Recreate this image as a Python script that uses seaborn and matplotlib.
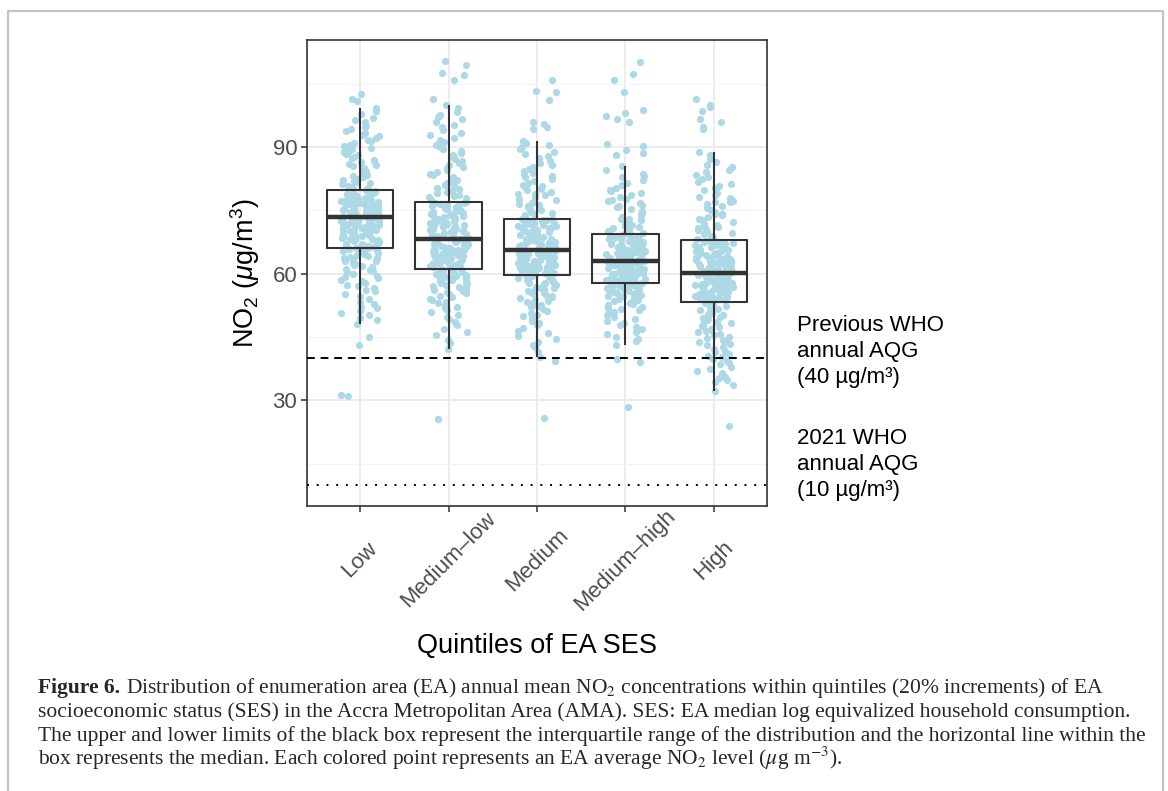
import numpy as np
import pandas as pd
import seaborn as sns
import matplotlib.pyplot as plt
from matplotlib.lines import Line2D
from matplotlib.transforms import IdentityTransform

quintiles = ['Low', 'Medium–low', 'Medium', 'Medium–high', 'High']

# EA annual mean NO2 (ug/m3), one list per SES quintile
no2_low = [31.0, 31.2, 43.1, 45.0,
           48.0, 49.5, 50.6, 51.2, 51.8, 52.9, 54.0, 55.1, 55.8, 56.6, 57.3, 57.9, 58.6, 59.2, 59.8,
           60.3, 60.9, 61.5, 62.0, 62.6, 63.1, 63.6, 64.2, 64.7, 65.3, 65.8, 66.1,
           66.3, 66.6, 66.8, 67.1, 67.3, 67.6, 67.8, 68.1, 68.3, 68.6, 68.8, 69.1, 69.3, 69.6, 69.8,
           70.1, 70.3, 70.6, 70.8, 71.1, 71.3, 71.6, 71.8, 72.0, 72.3, 72.5, 72.7, 72.9, 73.1, 73.3,
           73.5, 73.7, 73.9, 74.2, 74.4, 74.6, 74.8, 75.1, 75.3, 75.5, 75.7, 75.9, 76.2, 76.4, 76.6,
           76.8, 77.0, 77.3, 77.5, 77.7, 77.9, 78.1, 78.3, 78.6, 78.8, 79.0, 79.2, 79.4, 79.6, 79.8,
           80.3, 80.8, 81.4, 81.9, 82.5, 83.0, 83.6, 84.2, 84.8, 85.4, 86.0, 86.7, 87.3, 88.0, 88.7,
           89.4, 90.1, 90.9, 91.7, 92.5, 93.3, 94.2, 95.0, 95.9, 96.8, 97.9, 99.2,
           100.8, 101.4, 102.5,
           49.0, 50.1, 53.4, 54.6, 56.2, 57.0, 58.2, 59.0, 59.5, 60.6, 61.2, 61.8, 62.3, 62.9, 63.4,
           63.8, 64.0, 64.5, 64.9, 65.1, 65.5, 65.6, 65.9, 66.0, 52.2,
           66.2, 66.5, 66.9, 67.2, 67.5, 67.9, 68.2, 68.5, 68.9, 69.2, 69.5, 69.9, 70.2, 70.5, 70.9,
           71.2, 71.5, 71.9, 72.1, 72.4, 72.6, 72.8, 73.0, 73.2, 70.0,
           73.4, 73.6, 73.8, 74.0, 74.3, 74.5, 74.7, 75.0, 75.2, 75.4, 75.6, 75.8, 76.0, 76.3, 76.5,
           76.7, 76.9, 77.2, 77.4, 77.6, 77.8, 78.2, 78.5, 78.9, 79.3,
           80.0, 80.6, 81.1, 81.7, 82.2, 82.8, 83.3, 83.9, 84.5, 85.1, 85.7, 86.4, 87.0, 87.7, 88.4,
           89.1, 89.8, 90.5, 91.3, 92.1, 92.9, 93.8, 94.6, 96.3, 98.4]
no2_medlow = [25.5, 25.6,
              42.1, 44.3, 45.5, 47.0, 48.6, 49.8, 50.9, 51.8, 52.6, 53.4, 54.1, 54.8, 55.4, 55.9,
              56.4, 56.9, 57.3, 57.7, 58.1, 58.5, 58.9, 59.2, 59.5, 59.8, 60.1, 60.4, 60.6, 60.8, 61.0,
              61.2, 61.5, 61.7, 62.0, 62.2, 62.5, 62.7, 62.9, 63.2, 63.4, 63.7, 63.9, 64.2, 64.4, 64.6,
              64.9, 65.1, 65.4, 65.6, 65.9, 66.1, 66.3, 66.6, 66.8, 67.1, 67.3, 67.6, 67.8, 68.1, 68.3,
              68.6, 68.9, 69.2, 69.5, 69.8, 70.0, 70.3, 70.6, 70.9, 71.2, 71.5, 71.8, 72.1, 72.4, 72.7,
              73.0, 73.2, 73.5, 73.8, 74.1, 74.4, 74.7, 75.0, 75.3, 75.5, 75.8, 76.1, 76.4, 76.7, 77.0,
              77.5, 78.1, 78.7, 79.3, 80.0, 80.7, 81.4, 82.1, 82.9, 83.7, 84.5, 85.3, 86.2, 87.1, 88.0,
              89.0, 90.0, 91.1, 92.2, 93.4, 94.6, 96.0, 97.6, 99.9,
              101.4, 105.8, 107.0, 107.6, 109.4, 110.3,
              43.5, 46.2, 47.8, 49.2, 50.3, 51.3, 52.2, 53.0, 53.8, 54.5, 55.1, 55.7, 56.2, 56.7, 57.1,
              57.5, 57.9, 58.3, 58.7, 59.0, 59.4, 59.7, 60.0, 60.3, 60.7,
              61.1, 61.4, 61.6, 61.9, 62.1, 62.4, 62.6, 62.8, 63.1, 63.3, 63.6, 63.8, 64.1, 64.3, 64.5,
              64.8, 65.0, 65.3, 65.5, 65.8, 66.0, 66.5, 67.0, 67.5, 68.0,
              68.5, 68.8, 69.1, 69.4, 69.7, 70.2, 70.5, 70.8, 71.1, 71.4, 71.7, 72.0, 72.3, 72.6, 72.9,
              73.3, 73.7, 74.0, 74.3, 74.6, 74.9, 75.4, 75.9, 76.3, 76.8,
              77.8, 78.4, 79.0, 79.6, 80.3, 81.0, 81.7, 82.5, 83.3, 84.1, 84.9, 85.7, 86.6, 87.5, 88.5,
              89.5, 90.5, 91.6, 92.7, 93.9, 95.2, 96.5, 97.0, 98.3, 99.3]
no2_med = [25.9, 39.3,
           40.2, 42.6, 43.8, 45.2, 46.5, 47.8, 48.9, 49.9, 50.8, 51.6, 52.3, 53.0, 53.6, 54.2, 54.8,
           55.3, 55.8, 56.3, 56.7, 57.1, 57.5, 57.8, 58.1, 58.4, 58.7, 59.0, 59.3, 59.5, 59.7,
           59.9, 60.1, 60.3, 60.5, 60.7, 60.9, 61.1, 61.3, 61.5, 61.6, 61.8, 62.0, 62.2, 62.4, 62.6,
           62.8, 63.0, 63.2, 63.4, 63.6, 63.8, 64.0, 64.2, 64.4, 64.6, 64.8, 65.0, 65.2, 65.3, 65.5,
           65.8, 66.0, 66.3, 66.5, 66.8, 67.0, 67.3, 67.5, 67.8, 68.0, 68.3, 68.5, 68.8, 69.0, 69.3,
           69.5, 69.8, 70.0, 70.3, 70.5, 70.8, 71.0, 71.3, 71.5, 71.8, 72.0, 72.3, 72.5, 72.8, 73.0,
           73.5, 74.1, 74.7, 75.3, 76.0, 76.7, 77.4, 78.1, 78.9, 79.7, 80.5, 81.4, 82.3, 83.2, 84.2,
           85.2, 86.2, 87.3, 88.4, 89.5, 90.5, 91.5,
           94.3, 94.8, 95.3, 95.8, 101.0, 103.1, 103.3, 105.9,
           41.5, 43.0, 44.5, 46.0, 47.2, 48.3, 49.4, 50.3, 51.2, 52.0, 52.6, 53.3, 53.9, 54.5, 55.0,
           55.5, 56.0, 56.5, 56.9, 57.3, 57.7, 58.2, 58.6, 59.1, 59.4,
           59.8, 60.0, 60.2, 60.4, 60.6, 60.8, 61.0, 61.2, 61.4, 61.7, 61.9, 62.1, 62.3, 62.5, 62.7,
           62.9, 63.1, 63.3, 63.5, 63.9, 64.3, 64.7, 65.1, 65.4, 64.1,
           65.6, 65.9, 66.2, 66.4, 66.7, 66.9, 67.2, 67.4, 67.7, 68.2, 68.7, 69.2, 69.7, 70.2, 70.7,
           71.2, 71.7, 72.2, 72.7, 72.9, 69.9, 70.9, 71.9, 68.4, 67.9,
           73.8, 74.4, 75.0, 75.7, 76.3, 77.0, 77.7, 78.5, 79.3, 80.1, 81.0, 81.9, 82.8, 83.7, 84.7,
           85.7, 86.7, 87.8, 88.9, 90.0, 91.0, 76.6, 78.8, 80.8, 83.9]
no2_medhigh = [28.5, 39.0, 39.8,
               43.2, 44.5, 45.6, 46.8, 47.9, 48.9, 49.8, 50.6, 51.3, 51.9, 52.5, 53.0, 53.5, 54.0,
               54.4, 54.8, 55.2, 55.5, 55.8, 56.1, 56.4, 56.6, 56.8, 57.0, 57.2, 57.4, 57.6, 57.7,
               57.9, 58.1, 58.2, 58.4, 58.6, 58.8, 59.0, 59.2, 59.3, 59.5, 59.7, 59.9, 60.1, 60.2, 60.4,
               60.6, 60.8, 61.0, 61.1, 61.3, 61.5, 61.7, 61.9, 62.0, 62.2, 62.4, 62.6, 62.8, 62.9, 63.1,
               63.3, 63.5, 63.7, 63.9, 64.1, 64.3, 64.6, 64.8, 65.0, 65.2, 65.4, 65.6, 65.8, 66.0, 66.2,
               66.5, 66.7, 66.9, 67.1, 67.3, 67.5, 67.7, 67.9, 68.1, 68.3, 68.6, 68.8, 69.0, 69.2, 69.4,
               70.0, 70.7, 71.4, 72.2, 73.0, 73.9, 74.8, 75.7, 76.7, 77.7, 78.7, 79.8, 80.9, 82.1, 83.7,
               85.4,
               88.0, 88.6, 89.2, 90.1, 90.8, 96.0, 96.5, 97.3, 98.0, 98.8, 102.9, 105.8, 107.3, 110.0,
               44.0, 45.1, 46.2, 47.3, 48.4, 49.3, 50.2, 51.0, 51.6, 52.2, 52.8, 53.3, 53.8, 54.2, 54.6,
               55.0, 55.4, 55.7, 56.0, 56.3, 56.5, 56.9, 57.1, 57.3, 57.5,
               57.8, 58.0, 58.3, 58.5, 58.7, 58.9, 59.1, 59.4, 59.6, 59.8, 60.0, 60.3, 60.5, 60.7, 60.9,
               61.2, 61.4, 61.6, 61.8, 62.1, 62.3, 62.5, 62.7, 63.0, 60.0,
               63.2, 63.4, 63.6, 63.8, 64.0, 64.2, 64.5, 64.7, 64.9, 65.1, 65.3, 65.5, 65.7, 65.9, 66.1,
               66.4, 66.6, 66.8, 67.0, 67.4, 67.8, 68.2, 68.5, 68.9, 69.3,
               69.7, 70.4, 71.0, 71.8, 72.6, 73.4, 74.3, 75.2, 76.2, 77.2, 78.2, 79.2, 80.3, 81.5, 82.8,
               84.5, 70.2, 71.2, 72.9, 74.0, 75.9, 77.5, 79.5, 81.0, 83.1]
no2_high = [24.0,
            32.3, 34.3, 35.2, 36.0, 37.0, 38.0, 38.9, 39.8, 40.6, 41.4, 42.2, 43.0, 43.7, 44.4, 45.1,
            45.8, 46.4, 47.0, 47.6, 48.2, 48.8, 49.3, 49.8, 50.3, 50.8, 51.3, 51.8, 52.4, 53.0, 53.4,
            53.6, 53.9, 54.1, 54.3, 54.5, 54.8, 55.0, 55.2, 55.4, 55.7, 55.9, 56.1, 56.3, 56.6, 56.8,
            57.0, 57.2, 57.5, 57.7, 57.9, 58.1, 58.4, 58.6, 58.8, 59.0, 59.3, 59.5, 59.7, 59.9, 60.2,
            60.5, 60.7, 61.0, 61.2, 61.5, 61.8, 62.0, 62.3, 62.5, 62.8, 63.1, 63.3, 63.6, 63.8, 64.1,
            64.4, 64.6, 64.9, 65.1, 65.4, 65.7, 65.9, 66.2, 66.4, 66.7, 67.0, 67.2, 67.5, 67.7, 68.0,
            68.6, 69.3, 70.0, 70.7, 71.4, 72.2, 73.0, 73.8, 74.6, 75.5, 76.4, 77.3, 78.2, 79.2, 80.2,
            81.2, 82.3, 83.4, 84.6, 85.8, 87.2, 88.7,
            94.2, 94.8, 96.0, 96.5, 98.6, 99.4, 100.0, 101.4,
            33.6, 34.8, 35.6, 36.5, 37.5, 38.5, 39.3, 40.2, 41.0, 41.8, 42.6, 43.3, 44.0, 44.8, 45.5,
            46.1, 46.7, 47.3, 47.9, 48.5, 49.0, 49.6, 50.5, 51.6, 52.7,
            53.5, 53.7, 54.0, 54.2, 54.4, 54.7, 54.9, 55.1, 55.3, 55.6, 55.8, 56.0, 56.2, 56.5, 56.7,
            56.9, 57.1, 57.4, 57.6, 57.8, 58.3, 58.7, 59.1, 59.6, 60.0,
            60.3, 60.6, 60.9, 61.1, 61.4, 61.6, 61.9, 62.2, 62.4, 62.7, 62.9, 63.2, 63.5, 63.7, 64.0,
            64.3, 64.8, 65.3, 65.8, 66.3, 66.8, 67.3, 67.8, 64.5, 65.6,
            68.3, 69.0, 69.6, 70.4, 71.1, 71.8, 72.6, 73.4, 74.2, 75.0, 76.0, 76.9, 77.8, 78.7, 79.7,
            80.7, 81.8, 82.9, 84.0, 85.2, 86.5, 88.0, 70.9, 74.0, 77.0]

previous_aqg = 40
new_aqg = 10

caption_bold = 'Figure 6.'
caption_lines = [
    'Distribution of enumeration area (EA) annual mean NO$_2$ concentrations within quintiles (20% increments) of EA',
    'socioeconomic status (SES) in the Accra Metropolitan Area (AMA). SES: EA median log equivalized household consumption.',
    'The upper and lower limits of the black box represent the interquartile range of the distribution and the horizontal line within the',
    'box represents the median. Each colored point represents an EA average NO$_2$ level ($\\mu$g m$^{-3}$).',
]

sns.set_theme(style='whitegrid')
plt.rcParams['font.family'] = ['Liberation Sans', 'DejaVu Sans']
plt.rcParams['mathtext.fontset'] = 'custom'
plt.rcParams['mathtext.rm'] = 'Liberation Sans'
plt.rcParams['mathtext.it'] = 'Liberation Sans:italic'
plt.rcParams['mathtext.bf'] = 'Liberation Sans:bold'

groups = [no2_low, no2_medlow, no2_med, no2_medhigh, no2_high]
df = pd.DataFrame({
    'ses': np.repeat(quintiles, [len(g) for g in groups]),
    'no2': np.concatenate(groups),
})

W, H = 1168, 791
fig = plt.figure(figsize=(W / 100, H / 100), dpi=100)
fig.patch.set_facecolor('white')
ax = fig.add_axes([307 / W, 1 - 506 / H, 460 / W, 466 / H])
ax.set_facecolor('white')

np.random.seed(11)
sns.stripplot(data=df, x='ses', y='no2', order=quintiles, color='lightblue',
              jitter=0.22, size=5.2, linewidth=0, alpha=1, ax=ax, zorder=2)
sns.boxplot(data=df, x='ses', y='no2', order=quintiles, fill=False, color='#333333',
            width=0.75, linewidth=1.5, showfliers=False, showcaps=False,
            medianprops={'linewidth': 3.2, 'color': '#333333'}, ax=ax, zorder=3)

ax.axhline(previous_aqg, color='black', lw=1.4, ls=(0, (4, 3)), zorder=4)
ax.axhline(new_aqg, color='black', lw=1.4, ls=(0, (1, 4)), zorder=4)

ax.set_xlim(-0.6, 4.6)
ax.set_ylim(5.0, 115.3)
ax.set_yticks([30, 60, 90])
ax.set_yticks([15, 45, 75, 105], minor=True)
ax.set_axisbelow(True)
ax.grid(False)
ax.yaxis.grid(True, which='major', color='#EBEBEB', lw=1.3)
ax.yaxis.grid(True, which='minor', color='#F3F3F3', lw=0.8)
ax.xaxis.grid(True, which='major', color='#EBEBEB', lw=1.3)
for s in ax.spines.values():
    s.set_color('#333333')
    s.set_linewidth(1.2)

ax.tick_params(axis='both', which='major', length=4, width=1.1, color='#333333',
               bottom=True, left=True)
ax.tick_params(axis='y', which='minor', length=0)
ax.tick_params(axis='y', labelsize=16, labelcolor='#4D4D4D', pad=3)
ax.tick_params(axis='x', labelsize=16, labelcolor='#4D4D4D', pad=35)
ax.set_xticks(range(len(quintiles)))
ax.set_xticklabels(quintiles, rotation=45, ha='center', va='center', rotation_mode='anchor')

ax.set_xlabel('Quintiles of EA SES', fontsize=19.5, color='black', va='center')
ax.xaxis.set_label_coords(0.5, (506 - 646) / 466)
ax.set_ylabel('NO$_2$ ($\\mu$g/m$^3$)', fontsize=19.5, color='black', va='center')
ax.yaxis.set_label_coords((245 - 307) / 460, 0.5)

# threshold notes to the right of the panel
notes = [('Previous WHO', 331), ('annual AQG', 357), ('(40 µg/m³)', 383),
         ('2021 WHO', 444), ('annual AQG', 470), ('(10 µg/m³)', 496)]
for txt, yb in notes:
    fig.text(797 / W, 1 - yb / H, txt, fontsize=16, color='black', va='baseline')

# caption
serif = ['Liberation Serif', 'DejaVu Serif']
r = fig.canvas.get_renderer()
probe = fig.text(0, 0, caption_lines[2], family=serif, fontsize=14, math_fontfamily='stix')
fs = 14 * 1112 / probe.get_window_extent(r).width
probe.remove()

cap_base = [693, 717, 741, 765]
tb = fig.text(38 / W, 1 - cap_base[0] / H, caption_bold, family=serif, fontsize=fs,
              fontweight='bold', va='baseline')
bb = tb.get_window_extent(r)
fig.text((bb.x1 + fs * 0.35) / W, 1 - cap_base[0] / H, caption_lines[0], family=serif,
         fontsize=fs, va='baseline', math_fontfamily='stix')
for line, yb in zip(caption_lines[1:], cap_base[1:]):
    fig.text(38 / W, 1 - yb / H, line, family=serif, fontsize=fs, va='baseline',
             math_fontfamily='stix')

# light frame around the figure
fig.add_artist(Line2D([8, 8, 1163, 1163], [0, H - 11, H - 11, 0], transform=IdentityTransform(),
                      color='#C4C4C4', lw=1.6))

fig.savefig('out.png', dpi=100)
